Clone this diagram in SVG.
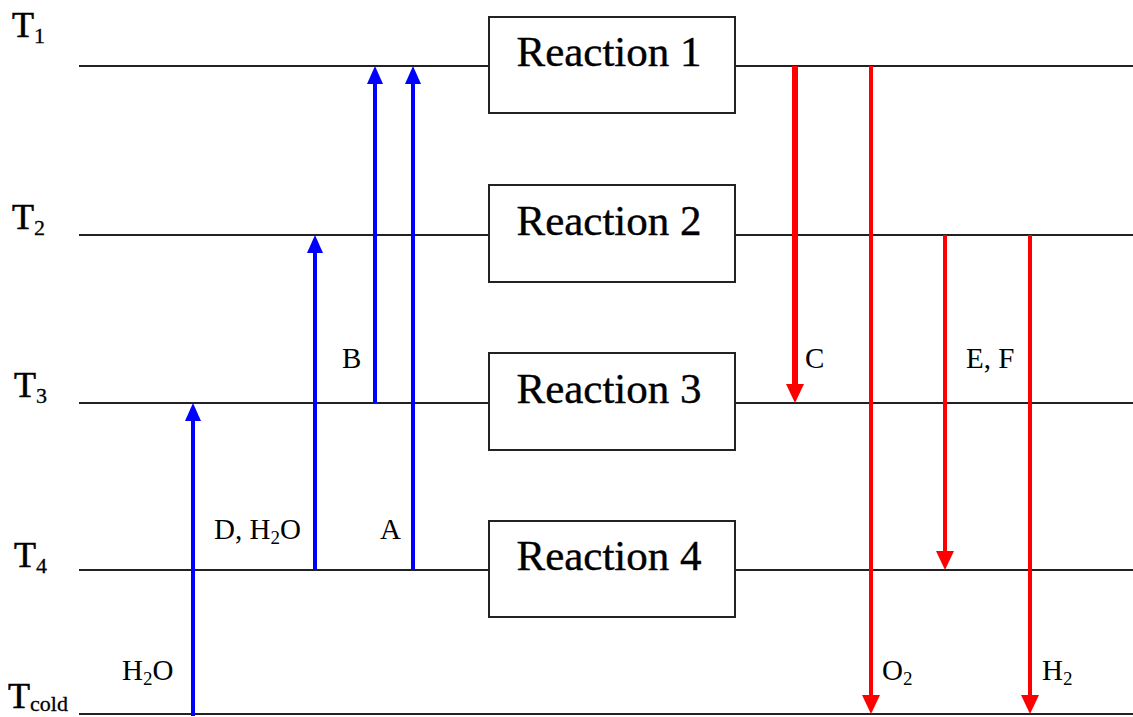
<svg xmlns="http://www.w3.org/2000/svg" width="1133" height="717" viewBox="0 0 1133 717">
<style>
.lvl{stroke:#222;stroke-width:2;fill:none}
.box{fill:#fff;stroke:#222;stroke-width:2}
.rt{font-family:"Liberation Serif","DejaVu Serif",serif;font-size:43px;fill:#000;stroke:#000;stroke-width:0.4;text-anchor:middle}
.tl{font-family:"Liberation Serif","DejaVu Serif",serif;font-size:36px;fill:#000;stroke:#000;stroke-width:0.6}
.sub{font-size:22px;stroke-width:0.3}
.lb{font-family:"Liberation Serif","DejaVu Serif",serif;font-size:29px;fill:#000}
.lbs{font-size:19px}
.blue{stroke:#0000ff;stroke-width:4;fill:none}
.red{stroke:#ff0000;stroke-width:4;fill:none}
.ha-b{fill:#0000ff}
.ha-r{fill:#ff0000}
</style>
<rect width="1133" height="717" fill="#fff"/>
<g id="levels">
<line class="lvl" x1="79" y1="66" x2="1133" y2="66"/>
<line class="lvl" x1="79" y1="235" x2="1133" y2="235"/>
<line class="lvl" x1="79" y1="403" x2="1133" y2="403"/>
<line class="lvl" x1="79" y1="570" x2="1133" y2="570"/>
<line class="lvl" x1="79" y1="714" x2="1133" y2="714"/>
</g>
<g id="tlabels">
<text class="tl" x="12" y="37">T<tspan class="sub" dy="6">1</tspan></text>
<text class="tl" x="12" y="229">T<tspan class="sub" dy="6">2</tspan></text>
<text class="tl" x="14" y="397">T<tspan class="sub" dy="6">3</tspan></text>
<text class="tl" x="14" y="567">T<tspan class="sub" dy="6">4</tspan></text>
<text class="tl" x="8" y="708">T<tspan class="sub" dy="3">cold</tspan></text>
</g>
<g id="reaction1"><rect class="box" x="489" y="17" width="246" height="96"/><text class="rt" x="609" y="66">Reaction 1</text></g>
<g id="reaction2"><rect class="box" x="489" y="185" width="246" height="97"/><text class="rt" x="609" y="235">Reaction 2</text></g>
<g id="reaction3"><rect class="box" x="489" y="353" width="246" height="97"/><text class="rt" x="609" y="403">Reaction 3</text></g>
<g id="reaction4"><rect class="box" x="489" y="521" width="246" height="96"/><text class="rt" x="609" y="570">Reaction 4</text></g>
<g id="connectors">
<line class="blue" x1="193" y1="716" x2="193" y2="418"/>
<polygon class="ha-b" points="193,403 185,421 201,421"/>
<line class="blue" x1="315" y1="570" x2="315" y2="250"/>
<polygon class="ha-b" points="315,235 307,253 323,253"/>
<line class="blue" x1="375" y1="403" x2="375" y2="81"/>
<polygon class="ha-b" points="375,66 367,84 383,84"/>
<line class="blue" x1="413" y1="570" x2="413" y2="81"/>
<polygon class="ha-b" points="413,66 405,84 421,84"/>
<line class="red" x1="795" y1="66" x2="795" y2="388" style="stroke-width:6"/>
<polygon class="ha-r" points="795,403 786,384 804,384"/>
<line class="red" x1="871" y1="66" x2="871" y2="699"/>
<polygon class="ha-r" points="871,714 862,695 880,695"/>
<line class="red" x1="945" y1="235" x2="945" y2="555"/>
<polygon class="ha-r" points="945,570 936,551 954,551"/>
<line class="red" x1="1030" y1="235" x2="1030" y2="699"/>
<polygon class="ha-r" points="1030,714 1021,695 1039,695"/>
</g>
<g id="labels">
<text class="lb" x="122" y="680">H<tspan class="lbs" dy="5">2</tspan><tspan dy="-5">O</tspan></text>
<text class="lb" x="214" y="539">D, H<tspan class="lbs" dy="5">2</tspan><tspan dy="-5">O</tspan></text>
<text class="lb" x="380" y="539">A</text>
<text class="lb" x="342" y="368">B</text>
<text class="lb" x="805" y="368">C</text>
<text class="lb" x="966" y="368">E, F</text>
<text class="lb" x="882" y="680">O<tspan class="lbs" dy="5">2</tspan></text>
<text class="lb" x="1042" y="680">H<tspan class="lbs" dy="5">2</tspan></text>
</g>
</svg>
